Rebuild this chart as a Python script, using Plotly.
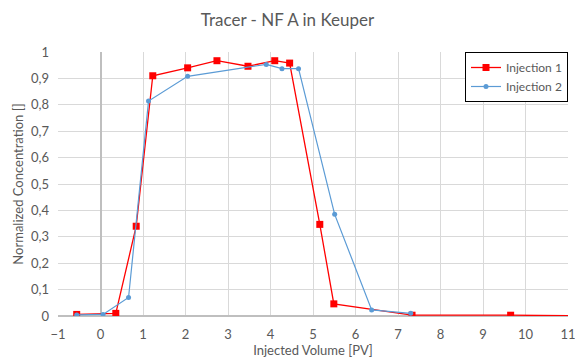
import plotly.graph_objects as go

# Injection 1 breakthrough curve
inj1_pv = [-0.56, 0.36, 0.84, 1.23, 2.05, 2.74, 3.47, 4.10, 4.45, 5.16, 5.49, 7.33, 9.65, 12.0]
inj1_c = [0.006, 0.010, 0.340, 0.910, 0.940, 0.967, 0.946, 0.967, 0.958, 0.347, 0.046, 0.003, 0.003, 0.0]

# Injection 2 breakthrough curve
inj2_pv = [-0.56, 0.06, 0.66, 1.13, 2.05, 3.90, 4.27, 4.66, 5.51, 6.38, 7.30]
inj2_c = [0.004, 0.006, 0.070, 0.814, 0.908, 0.953, 0.937, 0.937, 0.385, 0.023, 0.010]

y_ticks = [0, 0.1, 0.2, 0.3, 0.4, 0.5, 0.6, 0.7, 0.8, 0.9, 1]
x_ticks = list(range(-1, 12))

FONT = "Lato, Liberation Sans, sans-serif"
GREY = "#595959"

fig = go.Figure()
fig.add_trace(go.Scatter(
    x=inj1_pv, y=inj1_c, name="Injection 1", mode="lines+markers",
    line=dict(color="#ff0000", width=1.3),
    marker=dict(symbol="square", size=7, color="#ff0000"),
))
fig.add_trace(go.Scatter(
    x=inj2_pv, y=inj2_c, name="Injection 2", mode="lines+markers",
    line=dict(color="#5b9bd5", width=1.2),
    marker=dict(symbol="circle", size=5, color="#5b9bd5"),
))

fig.update_layout(
    width=575, height=358,
    margin=dict(l=58, r=7, t=52, b=42),
    paper_bgcolor="white", plot_bgcolor="white",
    separators=",.",
    font=dict(family=FONT, size=13, color=GREY),
    title=dict(text="Tracer - NF A in Keuper", x=0.5, xanchor="center",
               y=1 - 20 / 358, yanchor="middle",
               font=dict(family=FONT, size=17, color=GREY)),
    legend=dict(x=1.0, y=1.0, xanchor="right", yanchor="top",
                bgcolor="white", bordercolor="black", borderwidth=1,
                font=dict(family=FONT, size=12, color=GREY),
                tracegroupgap=8, itemwidth=30),
    showlegend=True,
)
fig.update_xaxes(
    range=[-1, 11], tickvals=x_ticks, showgrid=True, gridcolor="#d9d9d9", gridwidth=1,
    zeroline=True, zerolinecolor="#bfbfbf", zerolinewidth=1.5,
    showline=False, ticks="", tickfont=dict(size=13, color=GREY),
    ticklabelstandoff=9, ticklabeloverflow="allow", automargin=False,
    title=dict(text="Injected Volume [PV]", font=dict(size=13, color=GREY), standoff=17),
)
fig.update_yaxes(
    range=[0, 1], tickvals=y_ticks, showgrid=True, gridcolor="#d9d9d9", gridwidth=1,
    zeroline=True, zerolinecolor="#bfbfbf", zerolinewidth=1.5,
    showline=False, ticks="", tickfont=dict(size=13, color=GREY),
    ticklabelstandoff=8, automargin=False,
    title=dict(text="Normalized Concentration []", font=dict(size=13, color=GREY), standoff=4),
)

fig.write_html("out.html")
